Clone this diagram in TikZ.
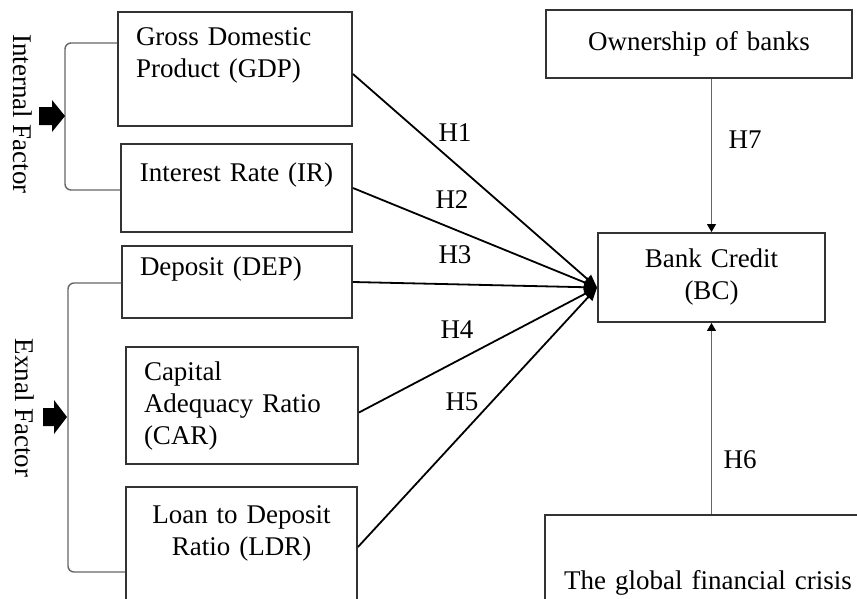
\documentclass[tikz,border=0pt]{standalone}
\usepackage{fontspec}
\setmainfont{Liberation Serif}
\usetikzlibrary{arrows.meta}

\begin{document}
\begin{tikzpicture}[x=1pt,y=-1pt,line join=miter,
  every node/.style={font=\fontsize{27}{32}\selectfont},
  var/.style={draw=black!80,line width=1.9pt,inner xsep=18pt,inner ysep=0pt},
  conn/.style={line width=1.8pt,-{Triangle[length=13pt,width=11pt]}},
  hyp/.style={draw=black!60,line width=0.9pt,-{Triangle[length=8pt,width=9pt,black]}},
  brace/.style={draw=black!60,line width=1.4pt,rounded corners=6pt}]
  \useasboundingbox (0,0) rectangle (857,598);
  \clip (0,0) rectangle (857,598);

  % determinants
  \node[var,text width=198pt,align=left,minimum height=114pt] (gdp) at (235,69)
    {Gross Domestic\\Product (GDP)\\\mbox{}};
  \node[var,text width=195pt,align=center,minimum height=88pt] (ir) at (236.5,188)
    {Interest Rate (IR)\\\mbox{}};
  \node[var,text width=194pt,align=left,minimum height=72pt] (dep) at (237,282)
    {Deposit (DEP)\\\mbox{}};
  \node[var,text width=196pt,align=left,minimum height=117pt] (car) at (242,405.5)
    {Capital\\Adequacy Ratio\\(CAR)};
  \node[var,text width=195pt,align=center,minimum height=120pt] (ldr) at (241.5,547)
    {Loan to Deposit\\Ratio (LDR)\\\mbox{}};

  % right column
  \node[var,text width=270pt,align=center,minimum height=68pt] (own) at (699,44)
    {Ownership of banks};
  \node[var,text width=191pt,align=center,minimum height=89pt] (bc) at (711.5,277.5)
    {Bank Credit\\(BC)};
  \node[var,inner xsep=13pt,text width=300pt,align=center,minimum height=136pt] (gfc) at (708,583)
    {The global financial crisis};

  \coordinate (hub) at ([yshift=-10pt]bc.west);

  \draw[conn] ([yshift=-5pt]gdp.east) -- (hub);
  \draw[conn] (ir.east) -- (hub);
  \draw[conn] (dep.east) -- (hub);
  \draw[conn] ([yshift=-7pt]car.east) -- (hub);
  \draw[conn] (ldr.east) -- (hub);
  \draw[hyp] (bc.north |- own.south) -- (bc.north);
  \draw[hyp] (bc.south |- gfc.north) -- (bc.south);

  \node (h1) at (455,133) {H1};
  \node (h2) at (452,200) {H2};
  \node (h3) at (455,255) {H3};
  \node (h4) at (457,330) {H4};
  \node (h5) at (462,402) {H5};
  \node (h7) at (745,140) {H7};
  \node (h6) at (740,460) {H6};

  % factor groups
  \draw[brace] (gdp.west |- 0,43) -- (65,43) -- (65,190) -- (ir.west |- 0,190);
  \draw[brace] (dep.west |- 0,283) -- (68,283) -- (68,572) -- (ldr.west |- 0,572);
  \fill (39,107) -- (52,107) -- (52,100) -- (65,116) -- (52,132) -- (52,125) -- (39,125) -- cycle;
  \fill (43,408) -- (54,408) -- (54,400) -- (67,417) -- (54,434) -- (54,426) -- (43,426) -- cycle;
  \node[rotate=-90] (intf) at (23,114) {Internal Factor};
  \node[rotate=-90] (extf) at (25,408) {Exnal Factor};
\end{tikzpicture}
\end{document}
